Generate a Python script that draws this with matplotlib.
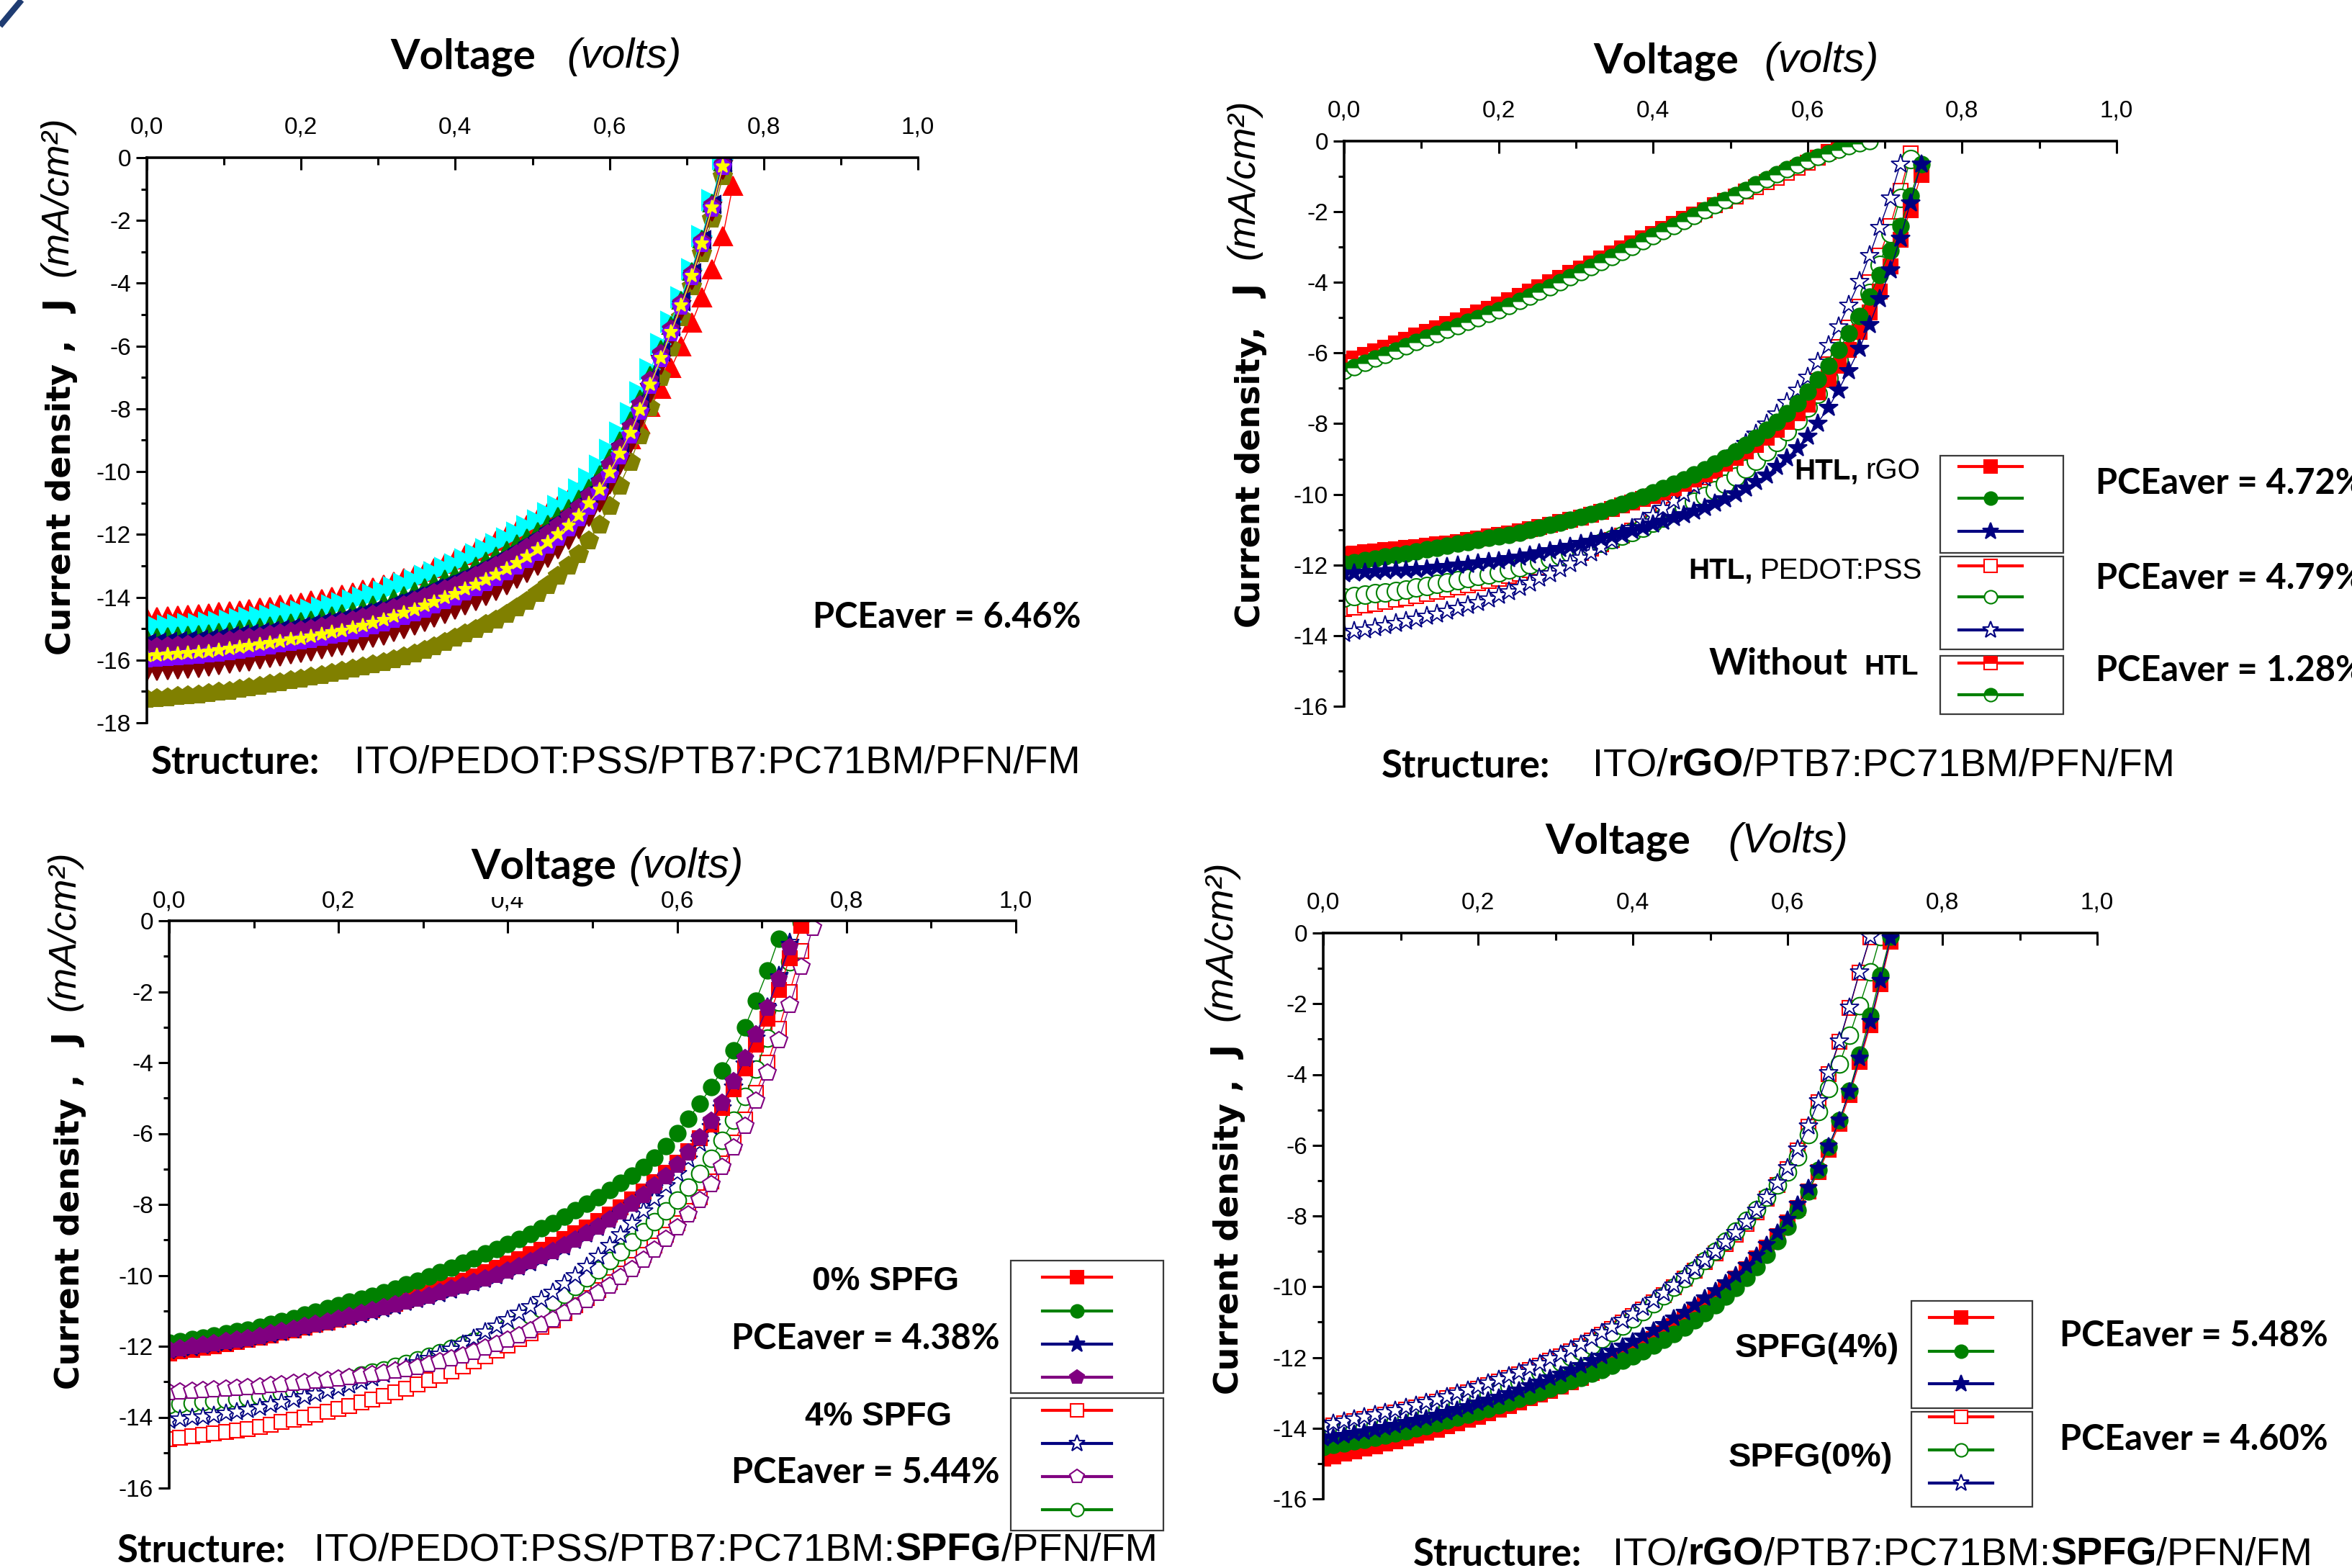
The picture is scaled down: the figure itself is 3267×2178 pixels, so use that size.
import matplotlib
matplotlib.use("Agg")
import matplotlib.pyplot as plt
from matplotlib import font_manager
from matplotlib.lines import Line2D
from matplotlib.patches import Rectangle
from matplotlib.text import Annotation
from matplotlib.ticker import MultipleLocator


def have(name):
    try:
        font_manager.findfont(font_manager.FontProperties(family=name),
                              fallback_to_default=False)
        return True
    except Exception:
        return False


CAL = 'Lato' if have('Lato') else 'DejaVu Sans'
ARI = 'Liberation Sans' if have('Liberation Sans') else 'DejaVu Sans'
VER = 'DejaVu Sans'
plt.rcParams['axes.unicode_minus'] = False

# ---------------------------------------------------------------- data
V = [0.000, 0.013, 0.027, 0.040, 0.053, 0.067, 0.080, 0.093, 0.107, 0.120,
     0.133, 0.147, 0.160, 0.173, 0.187, 0.200, 0.213, 0.227, 0.240, 0.253,
     0.267, 0.280, 0.293, 0.307, 0.320, 0.333, 0.347, 0.360, 0.373, 0.387,
     0.400, 0.413, 0.427, 0.440, 0.453, 0.467, 0.480, 0.493, 0.507, 0.520,
     0.533, 0.547, 0.560, 0.573, 0.587, 0.600, 0.613, 0.627, 0.640, 0.653,
     0.667, 0.680, 0.693, 0.707, 0.720, 0.733, 0.747, 0.760, 0.773]

x_ticks = [0.0, 0.2, 0.4, 0.6, 0.8, 1.0]
x_ticklabels = ['0,0', '0,2', '0,4', '0,6', '0,8', '1,0']
y_ticks_18 = [0, -2, -4, -6, -8, -10, -12, -14, -16, -18]
y_ticklabels_18 = ['0', '-2', '-4', '-6', '-8', '-10', '-12', '-14', '-16', '-18']
y_ticks_16 = [0, -2, -4, -6, -8, -10, -12, -14, -16]
y_ticklabels_16 = ['0', '-2', '-4', '-6', '-8', '-10', '-12', '-14', '-16']

# Panel 1 : ITO/PEDOT:PSS/PTB7:PC71BM/PFN/FM
p1_red = [-14.65, -14.63, -14.61, -14.59, -14.57, -14.54, -14.51, -14.48, -14.45, -14.42,
          -14.38, -14.34, -14.30, -14.25, -14.21, -14.17, -14.11, -14.05, -13.98, -13.91,
          -13.84, -13.76, -13.68, -13.59, -13.50, -13.40, -13.29, -13.18, -13.06, -12.94,
          -12.80, -12.66, -12.51, -12.36, -12.20, -12.04, -11.87, -11.69, -11.50, -11.30,
          -11.09, -10.87, -10.63, -10.37, -10.08, -9.75, -9.38, -8.96, -8.48, -7.94,
          -7.35, -6.70, -6.00, -5.25, -4.45, -3.55, -2.50, -0.90]
p1_cyan = [-14.95, -14.93, -14.91, -14.89, -14.87, -14.85, -14.82, -14.78, -14.74, -14.70,
           -14.66, -14.62, -14.58, -14.53, -14.49, -14.45, -14.39, -14.33, -14.26, -14.19,
           -14.11, -14.02, -13.92, -13.82, -13.70, -13.58, -13.46, -13.33, -13.20, -13.07,
           -12.95, -12.80, -12.64, -12.48, -12.31, -12.13, -11.94, -11.75, -11.55, -11.33,
           -11.10, -10.85, -10.56, -10.22, -9.82, -9.30, -8.75, -8.13, -7.47, -6.74,
           -5.95, -5.22, -4.45, -3.55, -2.50, -1.35, -0.05]
p1_green = [-15.29, -15.27, -15.25, -15.23, -15.21, -15.19, -15.16, -15.12, -15.08, -15.03,
            -14.99, -14.95, -14.91, -14.86, -14.81, -14.77, -14.71, -14.65, -14.58, -14.52,
            -14.44, -14.35, -14.25, -14.16, -14.04, -13.93, -13.81, -13.68, -13.55, -13.42,
            -13.30, -13.15, -13.00, -12.84, -12.67, -12.49, -12.30, -12.11, -11.90, -11.67,
            -11.43, -11.17, -10.87, -10.52, -10.10, -9.57, -9.01, -8.37, -7.68, -6.92,
            -6.11, -5.34, -4.55, -3.63, -2.58, -1.44, -0.13]
p1_navy = [-15.46, -15.43, -15.41, -15.39, -15.37, -15.35, -15.31, -15.27, -15.23, -15.19,
           -15.15, -15.11, -15.06, -15.01, -14.97, -14.92, -14.86, -14.80, -14.74, -14.67,
           -14.59, -14.50, -14.41, -14.32, -14.20, -14.09, -13.97, -13.85, -13.72, -13.59,
           -13.47, -13.32, -13.16, -13.01, -12.84, -12.66, -12.47, -12.27, -12.06, -11.83,
           -11.59, -11.32, -11.02, -10.66, -10.23, -9.70, -9.12, -8.48, -7.77, -7.01,
           -6.18, -5.40, -4.59, -3.67, -2.62, -1.48, -0.17]
p1_purple = [-15.59, -15.57, -15.55, -15.53, -15.50, -15.48, -15.45, -15.41, -15.37, -15.32,
             -15.28, -15.24, -15.19, -15.14, -15.09, -15.05, -14.99, -14.93, -14.86, -14.80,
             -14.72, -14.64, -14.54, -14.45, -14.34, -14.23, -14.11, -13.99, -13.86, -13.73,
             -13.61, -13.46, -13.31, -13.15, -12.98, -12.80, -12.61, -12.41, -12.20, -11.97,
             -11.72, -11.45, -11.14, -10.77, -10.35, -9.80, -9.23, -8.57, -7.86, -7.08,
             -6.24, -5.45, -4.63, -3.70, -2.65, -1.52, -0.20]
p1_yellow = [-15.87, -15.85, -15.82, -15.80, -15.77, -15.75, -15.72, -15.68, -15.64, -15.59,
             -15.55, -15.50, -15.46, -15.40, -15.35, -15.31, -15.25, -15.19, -15.12, -15.06,
             -14.98, -14.90, -14.81, -14.72, -14.61, -14.50, -14.39, -14.27, -14.14, -14.01,
             -13.89, -13.74, -13.59, -13.44, -13.27, -13.09, -12.90, -12.70, -12.48, -12.25,
             -11.99, -11.71, -11.39, -11.01, -10.57, -10.02, -9.43, -8.76, -8.02, -7.22,
             -6.37, -5.55, -4.71, -3.77, -2.72, -1.59, -0.27]
p1_violet = [-15.98, -15.96, -15.94, -15.91, -15.89, -15.86, -15.83, -15.79, -15.75, -15.70,
             -15.66, -15.61, -15.57, -15.51, -15.46, -15.42, -15.36, -15.30, -15.23, -15.17,
             -15.09, -15.01, -14.92, -14.83, -14.73, -14.62, -14.51, -14.39, -14.26, -14.13,
             -14.01, -13.86, -13.71, -13.56, -13.39, -13.21, -13.02, -12.82, -12.60, -12.36,
             -12.10, -11.82, -11.49, -11.11, -10.67, -10.11, -9.52, -8.84, -8.09, -7.28,
             -6.42, -5.59, -4.74, -3.80, -2.75, -1.62, -0.30]
p1_maroon = [-16.38, -16.35, -16.32, -16.30, -16.27, -16.25, -16.21, -16.17, -16.13, -16.08,
             -16.04, -15.99, -15.94, -15.88, -15.83, -15.78, -15.72, -15.66, -15.60, -15.54,
             -15.46, -15.38, -15.30, -15.22, -15.11, -15.01, -14.90, -14.79, -14.66, -14.53,
             -14.41, -14.26, -14.12, -13.96, -13.80, -13.62, -13.42, -13.22, -12.99, -12.75,
             -12.48, -12.18, -11.84, -11.45, -10.99, -10.42, -9.80, -9.10, -8.33, -7.49,
             -6.60, -5.73, -4.85, -3.89, -2.84, -1.72, -0.39]
p1_olive = [-17.25, -17.22, -17.19, -17.16, -17.13, -17.10, -17.06, -17.02, -16.98, -16.93,
            -16.88, -16.83, -16.77, -16.71, -16.65, -16.60, -16.54, -16.48, -16.42, -16.36,
            -16.29, -16.22, -16.15, -16.07, -15.98, -15.89, -15.79, -15.68, -15.56, -15.43,
            -15.30, -15.16, -15.02, -14.87, -14.71, -14.53, -14.33, -14.12, -13.88, -13.62,
            -13.33, -13.00, -12.63, -12.20, -11.70, -11.10, -10.45, -9.70, -8.85, -7.95,
            -7.00, -6.05, -5.10, -4.10, -3.05, -1.95, -0.60]

# Panel 2 : ITO/rGO/PTB7:PC71BM/PFN/FM
p2_noHTL_red = [-6.25, -6.15, -6.05, -5.95, -5.84, -5.73, -5.62, -5.51, -5.40, -5.29,
                -5.18, -5.07, -4.96, -4.85, -4.74, -4.62, -4.50, -4.38, -4.26, -4.13,
                -4.00, -3.87, -3.74, -3.60, -3.46, -3.32, -3.18, -3.04, -2.90, -2.76,
                -2.62, -2.48, -2.35, -2.21, -2.08, -1.95, -1.82, -1.69, -1.56, -1.43,
                -1.30, -1.17, -1.04, -0.90, -0.76, -0.61, -0.46, -0.30, -0.14]
p2_noHTL_green = [-6.50, -6.39, -6.28, -6.16, -6.05, -5.93, -5.81, -5.69, -5.57, -5.46,
                  -5.34, -5.23, -5.12, -5.01, -4.90, -4.78, -4.66, -4.53, -4.40, -4.27,
                  -4.13, -3.99, -3.85, -3.71, -3.57, -3.42, -3.28, -3.13, -2.99, -2.84,
                  -2.69, -2.55, -2.40, -2.26, -2.11, -1.96, -1.82, -1.67, -1.52, -1.38,
                  -1.23, -1.09, -0.94, -0.80, -0.67, -0.55, -0.44, -0.34, -0.24, -0.15,
                  -0.07, -0.01]
p2_rGO_red = [-11.70, -11.67, -11.64, -11.61, -11.58, -11.55, -11.52, -11.49, -11.45, -11.42,
              -11.39, -11.35, -11.30, -11.25, -11.20, -11.15, -11.10, -11.04, -10.98, -10.92,
              -10.86, -10.79, -10.73, -10.66, -10.58, -10.50, -10.41, -10.32, -10.23, -10.14,
              -10.05, -9.94, -9.83, -9.71, -9.58, -9.44, -9.30, -9.14, -8.97, -8.79,
              -8.60, -8.40, -8.18, -7.95, -7.71, -7.45, -7.12, -6.75, -6.35, -5.92,
              -5.40, -4.85, -4.25, -3.55, -2.80, -1.95, -0.95]
p2_rGO_green = [-11.97, -11.92, -11.87, -11.82, -11.77, -11.72, -11.67, -11.62, -11.56, -11.51,
                -11.46, -11.40, -11.35, -11.29, -11.24, -11.20, -11.14, -11.08, -11.01, -10.94,
                -10.87, -10.80, -10.73, -10.64, -10.56, -10.47, -10.38, -10.28, -10.18, -10.07,
                -9.95, -9.83, -9.70, -9.57, -9.44, -9.30, -9.14, -8.97, -8.79, -8.60,
                -8.40, -8.18, -7.95, -7.70, -7.42, -7.10, -6.75, -6.35, -5.92, -5.45,
                -4.95, -4.40, -3.80, -3.10, -2.40, -1.55, -0.65]
p2_rGO_navy = [-12.24, -12.22, -12.20, -12.19, -12.17, -12.15, -12.14, -12.12, -12.10, -12.07,
               -12.04, -12.01, -11.98, -11.94, -11.91, -11.88, -11.83, -11.78, -11.72, -11.66,
               -11.60, -11.53, -11.47, -11.40, -11.33, -11.25, -11.18, -11.10, -11.02, -10.94,
               -10.85, -10.76, -10.67, -10.58, -10.48, -10.37, -10.25, -10.12, -9.98, -9.82,
               -9.65, -9.45, -9.22, -8.97, -8.68, -8.35, -7.98, -7.55, -7.05, -6.50,
               -5.88, -5.20, -4.47, -3.65, -2.75, -1.75, -0.65]
p2_PEDOT_red = [-13.25, -13.20, -13.15, -13.10, -13.05, -12.99, -12.94, -12.88, -12.82, -12.76,
                -12.70, -12.64, -12.58, -12.52, -12.46, -12.40, -12.32, -12.24, -12.15, -12.06,
                -11.97, -11.87, -11.76, -11.65, -11.53, -11.41, -11.29, -11.16, -11.03, -10.90,
                -10.75, -10.60, -10.44, -10.28, -10.11, -9.93, -9.74, -9.53, -9.30, -9.06,
                -8.80, -8.53, -8.24, -7.92, -7.57, -7.20, -6.78, -6.32, -5.82, -5.28,
                -4.68, -4.00, -3.25, -2.40, -1.40, -0.35]
p2_PEDOT_green = [-12.93, -12.89, -12.85, -12.81, -12.77, -12.73, -12.69, -12.64, -12.59, -12.54,
                  -12.49, -12.43, -12.38, -12.32, -12.26, -12.20, -12.13, -12.06, -11.99, -11.91,
                  -11.83, -11.75, -11.66, -11.57, -11.48, -11.38, -11.28, -11.17, -11.06, -10.94,
                  -10.80, -10.66, -10.51, -10.36, -10.21, -10.05, -9.88, -9.70, -9.49, -9.27,
                  -9.04, -8.79, -8.52, -8.22, -7.90, -7.55, -7.15, -6.70, -6.20, -5.65,
                  -5.00, -4.30, -3.50, -2.60, -1.60, -0.50]
p2_PEDOT_navy = [-13.94, -13.89, -13.84, -13.78, -13.72, -13.66, -13.60, -13.53, -13.46, -13.39,
                 -13.31, -13.23, -13.15, -13.06, -12.96, -12.86, -12.75, -12.63, -12.51, -12.38,
                 -12.25, -12.11, -11.96, -11.81, -11.65, -11.49, -11.32, -11.14, -10.96, -10.78,
                 -10.60, -10.40, -10.19, -9.98, -9.76, -9.53, -9.30, -9.06, -8.82, -8.57,
                 -8.30, -8.02, -7.72, -7.40, -7.05, -6.68, -6.25, -5.78, -5.25, -4.65,
                 -3.98, -3.25, -2.45, -1.60, -0.65]

# Panel 3 : ITO/PEDOT:PSS/PTB7:PC71BM:SPFG/PFN/FM
p3_0_red = [-12.20, -12.15, -12.10, -12.05, -12.00, -11.94, -11.88, -11.82, -11.76, -11.69,
            -11.62, -11.55, -11.48, -11.40, -11.32, -11.24, -11.16, -11.07, -10.98, -10.89,
            -10.80, -10.70, -10.60, -10.49, -10.38, -10.27, -10.15, -10.03, -9.91, -9.79,
            -9.67, -9.54, -9.41, -9.27, -9.13, -8.98, -8.82, -8.65, -8.47, -8.28,
            -8.08, -7.86, -7.63, -7.38, -7.11, -6.82, -6.50, -6.14, -5.74, -5.28,
            -4.76, -4.16, -3.50, -2.76, -1.95, -1.05, -0.15]
p3_0_green = [-11.90, -11.85, -11.80, -11.75, -11.70, -11.64, -11.58, -11.53, -11.45, -11.37,
              -11.29, -11.20, -11.11, -11.02, -10.93, -10.84, -10.75, -10.66, -10.57, -10.47,
              -10.37, -10.26, -10.15, -10.03, -9.91, -9.78, -9.65, -9.52, -9.38, -9.25,
              -9.11, -8.97, -8.83, -8.68, -8.52, -8.35, -8.17, -7.98, -7.79, -7.60,
              -7.40, -7.18, -6.95, -6.68, -6.35, -5.98, -5.58, -5.15, -4.70, -4.22,
              -3.65, -3.00, -2.25, -1.40, -0.50]
p3_0_navy = [-12.15, -12.11, -12.06, -12.01, -11.96, -11.91, -11.86, -11.82, -11.76, -11.69,
             -11.63, -11.56, -11.49, -11.42, -11.35, -11.27, -11.20, -11.12, -11.04, -10.96,
             -10.88, -10.79, -10.71, -10.62, -10.53, -10.43, -10.34, -10.24, -10.14, -10.03,
             -9.91, -9.79, -9.66, -9.52, -9.37, -9.21, -9.04, -8.86, -8.67, -8.47,
             -8.26, -8.03, -7.79, -7.53, -7.25, -6.92, -6.56, -6.15, -5.68, -5.15,
             -4.55, -3.90, -3.20, -2.42, -1.58, -0.68]
p3_0_purple = [-12.10, -12.06, -12.01, -11.96, -11.91, -11.86, -11.81, -11.77, -11.71, -11.64,
               -11.58, -11.51, -11.44, -11.37, -11.30, -11.22, -11.15, -11.07, -10.99, -10.91,
               -10.83, -10.74, -10.66, -10.57, -10.48, -10.38, -10.29, -10.19, -10.09, -9.98,
               -9.86, -9.74, -9.61, -9.47, -9.32, -9.16, -8.99, -8.81, -8.62, -8.42,
               -8.21, -7.98, -7.74, -7.48, -7.20, -6.88, -6.53, -6.12, -5.65, -5.13,
               -4.52, -3.88, -3.20, -2.45, -1.65, -0.75]
p3_4_red = [-14.62, -14.58, -14.54, -14.50, -14.46, -14.41, -14.37, -14.33, -14.27, -14.21,
            -14.14, -14.07, -14.00, -13.92, -13.84, -13.76, -13.68, -13.59, -13.50, -13.40,
            -13.30, -13.19, -13.08, -12.96, -12.84, -12.71, -12.57, -12.43, -12.28, -12.13,
            -11.97, -11.80, -11.63, -11.45, -11.26, -11.06, -10.85, -10.64, -10.42, -10.19,
            -9.95, -9.70, -9.43, -9.15, -8.85, -8.53, -8.18, -7.80, -7.35, -6.85,
            -6.25, -5.60, -4.85, -4.00, -3.05, -2.00, -0.85]
p3_4_navy = [-14.10, -14.06, -14.02, -13.98, -13.94, -13.89, -13.84, -13.79, -13.72, -13.65,
             -13.58, -13.50, -13.42, -13.34, -13.26, -13.18, -13.09, -13.00, -12.90, -12.80,
             -12.70, -12.59, -12.47, -12.35, -12.22, -12.08, -11.93, -11.77, -11.60, -11.43,
             -11.25, -11.07, -10.88, -10.68, -10.47, -10.24, -10.00, -9.74, -9.46, -9.16,
             -8.85, -8.52, -8.18, -7.84, -7.48, -7.12, -6.72, -6.28, -5.80, -5.28,
             -4.70, -4.05, -3.30, -2.45, -1.55, -0.60]
p3_4_purple = [-13.30, -13.28, -13.26, -13.24, -13.22, -13.20, -13.18, -13.16, -13.13, -13.10,
               -13.07, -13.04, -13.01, -12.98, -12.95, -12.92, -12.88, -12.84, -12.80, -12.75,
               -12.70, -12.64, -12.58, -12.51, -12.43, -12.35, -12.26, -12.16, -12.05, -11.94,
               -11.82, -11.69, -11.55, -11.40, -11.24, -11.07, -10.89, -10.70, -10.50, -10.29,
               -10.06, -9.82, -9.56, -9.28, -8.97, -8.64, -8.28, -7.88, -7.44, -6.95,
               -6.40, -5.78, -5.08, -4.28, -3.38, -2.38, -1.30, -0.20]
p3_4_green = [-13.65, -13.62, -13.60, -13.57, -13.54, -13.51, -13.48, -13.45, -13.40, -13.35,
              -13.29, -13.23, -13.17, -13.10, -13.04, -12.97, -12.90, -12.82, -12.74, -12.66,
              -12.57, -12.48, -12.38, -12.28, -12.18, -12.07, -11.96, -11.85, -11.73, -11.60,
              -11.46, -11.30, -11.13, -10.95, -10.75, -10.54, -10.32, -10.08, -9.84, -9.59,
              -9.33, -9.06, -8.78, -8.49, -8.19, -7.87, -7.52, -7.13, -6.70, -6.20,
              -5.62, -4.95, -4.18, -3.30, -2.30, -1.15, -0.05]

# Panel 4 : ITO/rGO/PTB7:PC71BM:SPFG/PFN/FM
p4_4_red = [-14.85, -14.79, -14.72, -14.65, -14.58, -14.51, -14.44, -14.37, -14.29, -14.21,
            -14.13, -14.04, -13.95, -13.86, -13.77, -13.67, -13.57, -13.47, -13.37, -13.27,
            -13.16, -13.05, -12.94, -12.82, -12.70, -12.57, -12.44, -12.30, -12.15, -12.00,
            -11.84, -11.67, -11.49, -11.31, -11.12, -10.92, -10.71, -10.49, -10.26, -10.02,
            -9.77, -9.50, -9.21, -8.90, -8.56, -8.19, -7.77, -7.30, -6.75, -6.12,
            -5.40, -4.58, -3.65, -2.60, -1.45, -0.25]
p4_4_green = [-14.53, -14.48, -14.43, -14.38, -14.33, -14.27, -14.21, -14.15, -14.08, -14.01,
              -13.94, -13.86, -13.78, -13.70, -13.62, -13.53, -13.45, -13.36, -13.27, -13.18,
              -13.08, -12.98, -12.88, -12.78, -12.67, -12.57, -12.46, -12.35, -12.23, -12.10,
              -11.96, -11.82, -11.66, -11.50, -11.33, -11.15, -10.96, -10.75, -10.53, -10.29,
              -10.03, -9.75, -9.44, -9.10, -8.72, -8.30, -7.83, -7.30, -6.70, -6.05,
              -5.30, -4.45, -3.45, -2.35, -1.20, -0.10]
p4_4_navy = [-14.30, -14.25, -14.20, -14.15, -14.10, -14.04, -13.98, -13.92, -13.85, -13.78,
             -13.71, -13.63, -13.55, -13.47, -13.39, -13.30, -13.21, -13.12, -13.02, -12.92,
             -12.81, -12.70, -12.59, -12.47, -12.35, -12.23, -12.10, -11.97, -11.83, -11.69,
             -11.54, -11.39, -11.23, -11.07, -10.90, -10.72, -10.53, -10.33, -10.12, -9.90,
             -9.66, -9.40, -9.12, -8.81, -8.47, -8.10, -7.68, -7.20, -6.65, -6.02,
             -5.30, -4.48, -3.55, -2.50, -1.35, -0.15]
p4_0_red = [-13.98, -13.92, -13.86, -13.80, -13.74, -13.68, -13.61, -13.55, -13.48, -13.41,
            -13.33, -13.25, -13.16, -13.07, -12.98, -12.89, -12.79, -12.69, -12.58, -12.47,
            -12.35, -12.23, -12.10, -11.97, -11.83, -11.68, -11.52, -11.36, -11.19, -11.01,
            -10.83, -10.64, -10.44, -10.23, -10.01, -9.78, -9.55, -9.31, -9.06, -8.80,
            -8.52, -8.22, -7.89, -7.52, -7.12, -6.67, -6.15, -5.48, -4.78, -3.98,
            -3.08, -2.12, -1.12, -0.12]
p4_0_green = [-14.17, -14.12, -14.07, -14.02, -13.97, -13.92, -13.86, -13.80, -13.73, -13.66,
              -13.58, -13.50, -13.41, -13.32, -13.23, -13.13, -13.03, -12.92, -12.80, -12.68,
              -12.55, -12.42, -12.28, -12.14, -11.99, -11.83, -11.66, -11.48, -11.30, -11.11,
              -10.91, -10.70, -10.48, -10.25, -10.01, -9.77, -9.52, -9.26, -8.99, -8.71,
              -8.42, -8.12, -7.81, -7.48, -7.13, -6.75, -6.33, -5.70, -5.05, -4.40,
              -3.70, -2.90, -2.05, -1.10, -0.10]
p4_0_navy = [-13.92, -13.86, -13.80, -13.74, -13.68, -13.62, -13.55, -13.49, -13.42, -13.35,
             -13.27, -13.19, -13.10, -13.01, -12.92, -12.83, -12.73, -12.63, -12.52, -12.41,
             -12.29, -12.17, -12.04, -11.91, -11.77, -11.62, -11.46, -11.30, -11.13, -10.95,
             -10.77, -10.58, -10.38, -10.17, -9.95, -9.72, -9.49, -9.25, -9.00, -8.74,
             -8.46, -8.16, -7.83, -7.47, -7.07, -6.63, -6.10, -5.45, -4.75, -3.95,
             -3.05, -2.10, -1.10, -0.10]

RED, GREEN, NAVY = '#FF0000', '#008000', '#000080'
PURPLE, VIOLET, CYAN = '#800080', '#8000FF', '#00FFFF'
YELLOW, MAROON, OLIVE = '#FFFF00', '#800000', '#808000'

# ---------------------------------------------------------------- figure
W, H = 3267, 2178
fig = plt.figure(figsize=(W / 100, H / 100), dpi=100, facecolor='white')


def fx(x):
    return x / W


def fy(y):
    return 1 - y / H


def make_axes(x0, x1, y0, y1, yticks, yticklabels, xpad=19):
    ax = fig.add_axes([fx(x0), fy(y1), fx(x1) - fx(x0), fy(y0) - fy(y1)])
    ax.set_xlim(0, 1.0)
    ax.set_ylim(yticks[-1], 0)
    for s in ('right', 'bottom'):
        ax.spines[s].set_visible(False)
    for s in ('left', 'top'):
        ax.spines[s].set_linewidth(2.6)
    ax.xaxis.set_ticks_position('top')
    ax.set_xticks(x_ticks)
    ax.set_xticklabels(x_ticklabels, fontfamily=ARI, fontsize=24)
    ax.xaxis.set_minor_locator(MultipleLocator(0.1))
    ax.set_yticks(yticks)
    ax.set_yticklabels(yticklabels, fontfamily=ARI, fontsize=24)
    ax.yaxis.set_minor_locator(MultipleLocator(1))
    ax.tick_params(axis='x', which='both', direction='in', top=True, bottom=False,
                   labeltop=True, labelbottom=False, width=2.2)
    ax.tick_params(axis='x', which='major', length=12, pad=xpad)
    ax.tick_params(axis='x', which='minor', length=7)
    ax.tick_params(axis='y', which='both', direction='out', left=True, right=False,
                   width=2.2)
    ax.tick_params(axis='y', which='major', length=11, pad=5)
    ax.tick_params(axis='y', which='minor', length=6)
    return ax


def series(ax, J, color, marker, ms, kind='filled', mew=1.5, lw=1.0):
    n = len(J)
    kw = dict(color=color, lw=lw, marker=marker, ms=ms, mec=color, mew=mew)
    if kind == 'half':
        kw.update(fillstyle='top', mfc=color, markerfacecoloralt='white')
    elif kind == 'open':
        kw.update(mfc='white')
    else:
        kw.update(mfc=color)
    ax.plot(V[:n], J, **kw)


def key(xc, y, half, color, marker, ms, kind='filled'):
    fig.add_artist(Line2D([fx(xc - half), fx(xc + half)], [fy(y), fy(y)],
                          color=color, lw=3.0, transform=fig.transFigure))
    kw = dict(marker=marker, ms=ms, mec=color, mew=1.5, linestyle='none',
              transform=fig.transFigure)
    if kind == 'half':
        kw.update(fillstyle='top', mfc=color, markerfacecoloralt='white')
    elif kind == 'open':
        kw.update(mfc='white')
    else:
        kw.update(mfc=color)
    fig.add_artist(Line2D([fx(xc)], [fy(y)], **kw))


def box(x0, x1, y0, y1):
    fig.add_artist(Rectangle((fx(x0), fy(y1)), fx(x1) - fx(x0), fy(y0) - fy(y1),
                             transform=fig.transFigure, fill=False,
                             edgecolor='#3a3a3a', lw=1.6))


def title(xv, xu, y, unit, cover=False):
    bb = dict(facecolor='white', edgecolor='none', pad=11) if cover else None
    fig.text(fx(xv), fy(y), 'Voltage', family=CAL, weight='bold', size=42,
             ha='left', va='center', bbox=bb)
    fig.text(fx(xu), fy(y), unit, family=ARI, style='italic', size=42,
             ha='left', va='center')


def ylabel(xc, ycd, xj, yj, xu, yu, cd_text):
    kw = dict(rotation=90, rotation_mode='anchor', ha='left', va='center')
    fig.text(fx(xc), fy(ycd), cd_text, family=VER, weight='bold', size=33, **kw)
    fig.text(fx(xj), fy(yj), 'J', family=VER, weight='bold', size=35, **kw)
    fig.text(fx(xu), fy(yu), '(mA/cm²)', family=ARI, style='italic', size=39, **kw)


def chain(x, y, parts):
    fam, wt, sz = parts[0][1:4]
    prev = fig.text(fx(x), fy(y), parts[0][0], family=fam, weight=wt, size=sz,
                    ha='left', va='baseline')
    for txt, fam, wt, sz, gap in parts[1:]:
        a = Annotation(txt, xy=(1, 0), xycoords=prev, xytext=(gap, 0),
                       textcoords='offset points', ha='left', va='bottom',
                       family=fam, weight=wt, size=sz)
        fig.add_artist(a)
        prev = a


def structure(x, y, segs, gap=22):
    parts = [('Structure:', CAL, 'bold', 38, 0)]
    first = True
    for txt, bold in segs:
        parts.append((txt, ARI, 'bold' if bold else 'normal', 39, gap if first else 0))
        first = False
    chain(x, y, parts)


def pce(x, y, s):
    fig.text(fx(x), fy(y), s, family=CAL, weight='bold', size=35, ha='left', va='center')


# ---------------------------------------------------------------- panel 1
ax1 = make_axes(204, 1275, 219, 1004, y_ticks_18, y_ticklabels_18)
series(ax1, p1_red, RED, '^', 19)
series(ax1, p1_olive, OLIVE, 'p', 19)
series(ax1, p1_maroon, MAROON, 'v', 19)
series(ax1, p1_cyan, CYAN, '>', 20)
series(ax1, p1_green, GREEN, '^', 17)
series(ax1, p1_navy, NAVY, '<', 17)
series(ax1, p1_purple, PURPLE, 'p', 17)
series(ax1, p1_violet, VIOLET, 'p', 18)
series(ax1, p1_yellow, YELLOW, '*', 14)
title(542, 787, 79, '(volts)')
ylabel(85, 910, 85, 435, 79, 384, 'Current density ,')
pce(1129, 858, 'PCEaver = 6.46%')
structure(210, 1075, [('ITO/PEDOT:PSS/PTB7:PC71BM/PFN/FM', False)], gap=34)

# ---------------------------------------------------------------- panel 2
ax2 = make_axes(1867, 2940, 196, 981, y_ticks_16, y_ticklabels_16)
series(ax2, p2_noHTL_red, RED, 's', 14, 'half')
series(ax2, p2_noHTL_green, GREEN, 'o', 16, 'half')
series(ax2, p2_PEDOT_red, RED, 's', 15, 'open')
series(ax2, p2_PEDOT_green, GREEN, 'o', 18, 'open')
series(ax2, p2_PEDOT_navy, NAVY, '*', 20, 'open', mew=1.3)
series(ax2, p2_rGO_red, RED, 's', 15)
series(ax2, p2_rGO_green, GREEN, 'o', 16)
series(ax2, p2_rGO_navy, NAVY, '*', 19)
title(2213, 2450, 85, '(volts)')
ylabel(1738, 872, 1738, 414, 1727, 360, 'Current density,')
box(2695, 2866, 633, 768)
box(2695, 2866, 773, 902)
box(2695, 2866, 911, 992)
key(2765, 648, 44, RED, 's', 13)
key(2765, 692, 44, GREEN, 'o', 13)
key(2765, 738, 44, NAVY, '*', 17)
key(2765, 786, 44, RED, 's', 13, 'open')
key(2765, 829, 44, GREEN, 'o', 13, 'open')
key(2765, 875, 44, NAVY, '*', 17, 'open')
key(2765, 921, 44, RED, 's', 13, 'half')
key(2765, 965, 44, GREEN, 'o', 13, 'half')
t = fig.text(fx(2667), fy(665), 'rGO', family=ARI, size=29, ha='right', va='baseline')
fig.add_artist(Annotation('HTL,', xy=(0, 0), xycoords=t, xytext=(-7, 0),
                          textcoords='offset points', ha='right', va='bottom',
                          family=ARI, weight='bold', size=29))
t = fig.text(fx(2670), fy(804), 'PEDOT:PSS', family=ARI, size=29, ha='right', va='baseline')
fig.add_artist(Annotation('HTL,', xy=(0, 0), xycoords=t, xytext=(-7, 0),
                          textcoords='offset points', ha='right', va='bottom',
                          family=ARI, weight='bold', size=29))
fig.text(fx(2374), fy(937), 'Without', family=CAL, weight='bold', size=37,
         ha='left', va='baseline')
fig.text(fx(2665), fy(937), 'HTL', family=ARI, weight='bold', size=28,
         ha='right', va='baseline')
pce(2911, 672, 'PCEaver = 4.72%')
pce(2911, 803, 'PCEaver = 4.79%')
pce(2911, 932, 'PCEaver = 1.28%')
structure(1919, 1080, [('ITO/', False), ('rGO', True), ('/PTB7:PC71BM/PFN/FM', False)],
          gap=42)

# ---------------------------------------------------------------- panel 3
ax3 = make_axes(235, 1411, 1279, 2067, y_ticks_16, y_ticklabels_16, xpad=8)
series(ax3, p3_4_red, RED, 's', 15, 'open')
series(ax3, p3_4_green, GREEN, 'o', 17, 'open')
series(ax3, p3_4_navy, NAVY, '*', 19, 'open', mew=1.3)
series(ax3, p3_4_purple, PURPLE, 'p', 18, 'open')
series(ax3, p3_0_red, RED, 's', 15)
series(ax3, p3_0_green, GREEN, 'o', 16)
series(ax3, p3_0_navy, NAVY, '*', 18)
series(ax3, p3_0_purple, PURPLE, 'p', 17)
title(654, 873, 1204, '(volts)', cover=True)
ylabel(97, 1930, 97, 1454, 89, 1404, 'Current density ,')
box(1404, 1616, 1751, 1935)
box(1404, 1616, 1942, 2126)
for yy, col, mk, ms in [(1774, RED, 's', 13), (1821, GREEN, 'o', 13),
                        (1867, NAVY, '*', 17), (1913, PURPLE, 'p', 15)]:
    key(1496, yy, 48, col, mk, ms)
for yy, col, mk, ms in [(1959, RED, 's', 13), (2005, NAVY, '*', 17),
                        (2051, PURPLE, 'p', 15), (2097, GREEN, 'o', 13)]:
    key(1496, yy, 48, col, mk, ms, 'open')
fig.text(fx(1230), fy(1780), '0% SPFG', family=ARI, weight='bold', size=33,
         ha='center', va='center')
fig.text(fx(1220), fy(1968), '4% SPFG', family=ARI, weight='bold', size=33,
         ha='center', va='center')
pce(1016, 1860, 'PCEaver = 4.38%')
pce(1016, 2045, 'PCEaver = 5.44%')
structure(163, 2170, [('ITO/PEDOT:PSS/PTB7:PC71BM:', False), ('SPFG', True),
                      ('/PFN/FM', False)], gap=28)

# ---------------------------------------------------------------- panel 4
ax4 = make_axes(1838, 2913, 1296, 2082, y_ticks_16, y_ticklabels_16)
series(ax4, p4_0_red, RED, 's', 15, 'open')
series(ax4, p4_0_green, GREEN, 'o', 17, 'open')
series(ax4, p4_0_navy, NAVY, '*', 19, 'open', mew=1.3)
series(ax4, p4_4_red, RED, 's', 15)
series(ax4, p4_4_green, GREEN, 'o', 16)
series(ax4, p4_4_navy, NAVY, '*', 18)
title(2146, 2400, 1169, '(Volts)')
ylabel(1707, 1937, 1707, 1471, 1696, 1418, 'Current density ,')
box(2655, 2823, 1807, 1956)
box(2655, 2823, 1961, 2093)
for yy, col, mk, ms in [(1830, RED, 's', 13), (1877, GREEN, 'o', 13),
                        (1922, NAVY, '*', 17)]:
    key(2724, yy, 44, col, mk, ms)
for yy, col, mk, ms in [(1968, RED, 's', 13), (2014, GREEN, 'o', 13),
                        (2060, NAVY, '*', 17)]:
    key(2724, yy, 44, col, mk, ms, 'open')
fig.text(fx(2638), fy(1873), 'SPFG(4%)', family=ARI, weight='bold', size=34,
         ha='right', va='center')
fig.text(fx(2629), fy(2025), 'SPFG(0%)', family=ARI, weight='bold', size=34,
         ha='right', va='center')
pce(2861, 1855, 'PCEaver = 5.48%')
pce(2861, 2000, 'PCEaver = 4.60%')
structure(1963, 2175, [('ITO/', False), ('rGO', True), ('/PTB7:PC71BM:', False),
                       ('SPFG', True), ('/PFN/FM', False)], gap=31)

# slide decoration in the top-left corner
fig.add_artist(Line2D([fx(0), fx(30)], [fy(36), fy(0)], color='#1F3C72', lw=6,
                      transform=fig.transFigure, solid_capstyle='butt'))

fig.savefig('out.png', dpi=100)
